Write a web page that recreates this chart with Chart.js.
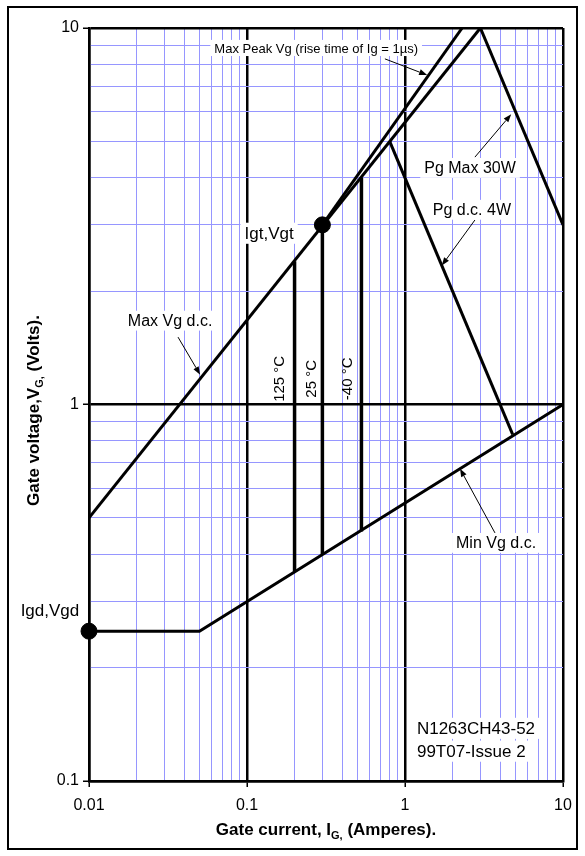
<!DOCTYPE html>
<html>
<head>
<meta charset="utf-8">
<script src="https://cdn.jsdelivr.net/npm/chart.js@4.4.1/dist/chart.umd.min.js"></script>
<style>
  html, body { margin: 0; padding: 0; background: #fff; }
  #wrap { width: 585px; height: 856px; position: relative; }
</style>
</head>
<body>
<div id="wrap"><canvas id="gateChart" width="585" height="856"></canvas></div>
<script>
const FONT = "'Liberation Sans', Arial, sans-serif";
const COLORS = {
    line: '#000000',
    minorGrid: '#9696ff',
    majorGrid: '#000000',
    bg: '#ffffff'
};

// axis decades and their labels
const xDecades = [0.01, 0.1, 1, 10];
const yDecades = [0.1, 1, 10];
const xTickLabels = ['0.01', '0.1', '1', '10'];
const yTickLabels = ['0.1', '1', '10'];

// curves: x = gate current (A), y = gate voltage (V)
const maxVgDc = [{ x: 0.01, y: 0.5 }, { x: 3, y: 10 }];
const maxPeakVg = [{ x: 0.3, y: 3 }, { x: 2.3, y: 10 }];
const pgMax30W = [{ x: 3, y: 10 }, { x: 10, y: 3 }];
const pgDc4W = [{ x: 0.8, y: 5 }, { x: 4.8, y: 0.833 }];
const minVgDc = [{ x: 0.01, y: 0.25 }, { x: 0.05, y: 0.25 }, { x: 10, y: 1 }];
const temp125 = [{ x: 0.2, y: 0.36 }, { x: 0.2, y: 2.4 }];
const temp25 = [{ x: 0.3, y: 0.40 }, { x: 0.3, y: 3 }];
const tempM40 = [{ x: 0.53, y: 0.46 }, { x: 0.53, y: 4.0 }];
const keyPoints = [{ x: 0.3, y: 3 }, { x: 0.01, y: 0.25 }];

// text notes placed in data coordinates
const notes = [
    { text: 'Max Peak Vg (rise time of Ig = 1µs)', x: 0.274, y: 8.85, size: 13 },
    { text: 'Pg Max 30W', x: 2.58, y: 4.25, size: 16 },
    { text: 'Pg d.c. 4W', x: 2.65, y: 3.29, size: 16 },
    { text: 'Max Vg d.c.', x: 0.0326, y: 1.67, size: 16 },
    { text: 'Min Vg d.c.', x: 3.77, y: 0.429, size: 16 },
    { text: 'Igt,Vgt', x: 0.138, y: 2.85, size: 17 },
    { text: 'Igd,Vgd', x: 0.00566, y: 0.284, size: 17 },
    { text: 'N1263CH43-52', x: 1.19, y: 0.138, size: 17, align: 'left' },
    { text: '99T07-Issue 2', x: 1.19, y: 0.120, size: 17, align: 'left' }
];
const arrows = [
    { from: [0.746, 8.28], to: [1.38, 7.5] },
    { from: [2.77, 4.54], to: [4.7, 5.9] },
    { from: [2.77, 3.09], to: [1.71, 2.34] },
    { from: [0.0366, 1.51], to: [0.0505, 1.2] },
    { from: [3.71, 0.456], to: [2.23, 0.675] }
];
const tempLabels = [
    { text: '125 °C', x: 0.162, y: 1.17 },
    { text: '25 °C', x: 0.258, y: 1.17 },
    { text: '-40 °C', x: 0.435, y: 1.17 }
];

function gridValues(decades) {
    const out = [];
    decades.forEach((d, i) => {
        if (i === decades.length - 1) { out.push(d); return; }
        for (let k = 1; k <= 9; k++) out.push(+(d * k).toPrecision(3));
    });
    return out;
}

function isDecade(v) {
    const l = Math.log10(v);
    return Math.abs(l - Math.round(l)) < 1e-6;
}

function labelFor(v, decades, labels) {
    const i = decades.findIndex(d => Math.abs(d - v) < d * 1e-6);
    return i >= 0 ? labels[i] : '';
}

function lineSet(label, data, width) {
    return {
        label, data, showLine: true, borderColor: COLORS.line, borderWidth: width,
        pointRadius: 0, pointHoverRadius: 0, fill: false, tension: 0
    };
}

function axisOptions(decades, labels, fitSize, isX) {
    return {
        type: 'logarithmic',
        min: decades[0],
        max: decades[decades.length - 1],
        afterBuildTicks: (scale) => {
            scale.ticks = gridValues(decades).map(v => ({ value: v }));
        },
        afterFit: (scale) => {
            if (isX) scale.height = fitSize; else scale.width = fitSize;
        },
        border: { display: true, color: COLORS.majorGrid, width: 2.5 },
        grid: {
            color: (c) => (c.tick && isDecade(c.tick.value)) ? COLORS.majorGrid : COLORS.minorGrid,
            lineWidth: (c) => (c.tick && isDecade(c.tick.value)) ? 2.5 : 1,
            drawTicks: true,
            tickLength: 6,
            tickWidth: 1.5,
            tickColor: (c) => (c.tick && isDecade(c.tick.value)) ? '#000' : 'rgba(0,0,0,0)'
        },
        ticks: {
            autoSkip: false,
            maxRotation: 0,
            minRotation: 0,
            padding: isX ? 9 : 4,
            color: '#000',
            font: { family: FONT, size: 16 },
            callback: (v) => labelFor(v, decades, labels)
        }
    };
}

function drawRich(ctx, parts, cx, cy, size) {
    let total = 0;
    parts.forEach(p => {
        ctx.font = `bold ${p.sub ? Math.round(size * 0.65) : size}px ${FONT}`;
        p.w = ctx.measureText(p.t).width;
        total += p.w;
    });
    let x = cx - total / 2;
    ctx.textAlign = 'left';
    ctx.textBaseline = 'alphabetic';
    parts.forEach(p => {
        ctx.font = `bold ${p.sub ? Math.round(size * 0.65) : size}px ${FONT}`;
        ctx.fillText(p.t, x, cy + (p.sub ? 4 : 0));
        x += p.w;
    });
}

const notesPlugin = {
    id: 'notes',
    beforeDatasetsDraw(chart) {
        const ctx = chart.ctx;
        const xs = chart.scales.x, ys = chart.scales.y;
        ctx.save();
        notes.forEach(n => {
            const px = xs.getPixelForValue(n.x);
            const py = ys.getPixelForValue(n.y);
            ctx.font = `${n.size}px ${FONT}`;
            const w = ctx.measureText(n.text).width;
            const left = n.align === 'left' ? px : px - w / 2;
            ctx.fillStyle = COLORS.bg;
            ctx.fillRect(left - 4, py - n.size * 0.62, w + 8, n.size * 1.24);
            ctx.fillStyle = '#000';
            ctx.textAlign = 'left';
            ctx.textBaseline = 'middle';
            ctx.fillText(n.text, left, py + 1);
        });
        tempLabels.forEach(t => {
            const px = xs.getPixelForValue(t.x);
            const py = ys.getPixelForValue(t.y);
            ctx.save();
            ctx.translate(px, py);
            ctx.rotate(-Math.PI / 2);
            ctx.font = `15px ${FONT}`;
            ctx.fillStyle = '#000';
            ctx.textAlign = 'center';
            ctx.textBaseline = 'middle';
            ctx.fillText(t.text, 0, 0);
            ctx.restore();
        });
        ctx.restore();
    },
    afterDatasetsDraw(chart) {
        const ctx = chart.ctx;
        const xs = chart.scales.x, ys = chart.scales.y;
        ctx.save();
        ctx.strokeStyle = '#000';
        ctx.fillStyle = '#000';
        ctx.lineWidth = 1;
        arrows.forEach(a => {
            const x1 = xs.getPixelForValue(a.from[0]), y1 = ys.getPixelForValue(a.from[1]);
            const x2 = xs.getPixelForValue(a.to[0]), y2 = ys.getPixelForValue(a.to[1]);
            const ang = Math.atan2(y2 - y1, x2 - x1);
            const head = 8, half = 3;
            ctx.beginPath();
            ctx.moveTo(x1, y1);
            ctx.lineTo(x2 - Math.cos(ang) * head, y2 - Math.sin(ang) * head);
            ctx.stroke();
            ctx.beginPath();
            ctx.moveTo(x2, y2);
            ctx.lineTo(x2 - Math.cos(ang) * head - Math.sin(ang) * half, y2 - Math.sin(ang) * head + Math.cos(ang) * half);
            ctx.lineTo(x2 - Math.cos(ang) * head + Math.sin(ang) * half, y2 - Math.sin(ang) * head - Math.cos(ang) * half);
            ctx.closePath();
            ctx.fill();
        });
        ctx.restore();
    },
    afterDraw(chart) {
        const ctx = chart.ctx;
        const area = chart.chartArea;
        ctx.save();
        ctx.fillStyle = '#000';
        drawRich(ctx, [
            { t: 'Gate current, I' }, { t: 'G,', sub: true }, { t: ' (Amperes).' }
        ], (area.left + area.right) / 2, 835, 17);
        ctx.translate(39, (area.top + area.bottom) / 2 + 6);
        ctx.rotate(-Math.PI / 2);
        drawRich(ctx, [
            { t: 'Gate voltage,V' }, { t: 'G,', sub: true }, { t: ' (Volts).' }
        ], 0, 0, 17);
        ctx.restore();
        ctx.save();
        ctx.strokeStyle = '#000';
        ctx.lineWidth = 2;
        ctx.strokeRect(8, 7, 569, 842);
        ctx.restore();
    }
};

const ctx = document.getElementById('gateChart').getContext('2d');
new Chart(ctx, {
    type: 'scatter',
    data: {
        datasets: [
            lineSet('Max Vg d.c.', maxVgDc, 3),
            lineSet('Max Peak Vg', maxPeakVg, 3),
            lineSet('Pg Max 30W', pgMax30W, 3),
            lineSet('Pg d.c. 4W', pgDc4W, 3),
            lineSet('Min Vg d.c.', minVgDc, 3),
            lineSet('125 °C', temp125, 3.5),
            lineSet('25 °C', temp25, 3.5),
            lineSet('-40 °C', tempM40, 3.5),
            {
                label: 'Igt / Igd',
                data: keyPoints,
                showLine: false,
                pointRadius: 8,
                pointHoverRadius: 8,
                pointBackgroundColor: '#000',
                pointBorderColor: '#000',
                clip: false
            }
        ]
    },
    options: {
        responsive: false,
        animation: false,
        events: [],
        layout: { padding: { left: 0, top: 28, right: 22, bottom: 0 } },
        plugins: { legend: { display: false }, tooltip: { enabled: false } },
        scales: {
            x: axisOptions(xDecades, xTickLabels, 75, true),
            y: axisOptions(yDecades, yTickLabels, 89, false)
        }
    },
    plugins: [notesPlugin]
});
</script>
</body>
</html>
